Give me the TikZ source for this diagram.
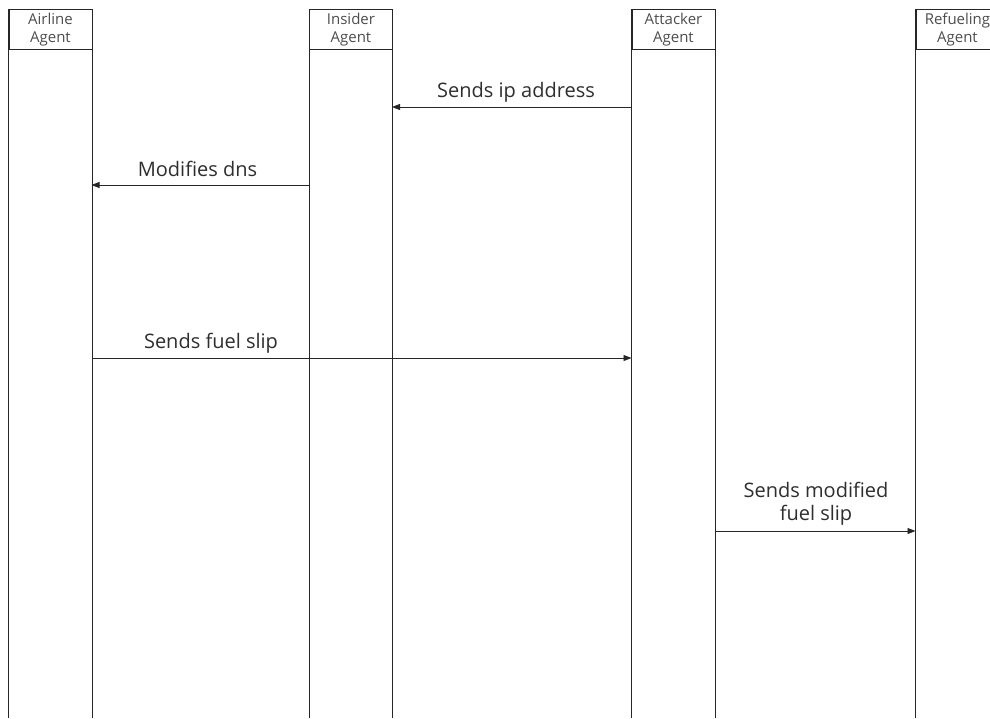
\documentclass[tikz,border=0pt]{standalone}
\usepackage{fontspec}
\setmainfont{Open Sans}
\usetikzlibrary{arrows.meta}
\definecolor{ink}{HTML}{262626}
\definecolor{txt}{HTML}{2E2E2E}
\definecolor{headtxt}{HTML}{4D4D4D}
\tikzset{
  lifeline/.style={draw=ink, line width=0.9pt},
  header/.style={draw=ink, line width=0.9pt, minimum width=83pt, minimum height=40pt,
    anchor=north west, align=center, inner sep=0pt,
    font=\fontsize{15}{18}\selectfont, text=headtxt},
  msg/.style={draw=ink, line width=0.9pt, -{Triangle[length=8pt,width=6pt]}},
  msglabel/.style={font=\fontsize{20}{23}\selectfont, text=txt, align=center, anchor=base, inner sep=0pt}
}
\begin{document}
\begin{tikzpicture}[x=1pt,y=-1pt]
\useasboundingbox (0,0) rectangle (990,718);
\clip (0,0) rectangle (990,718);
% agent headers (the lower edge of each box is the divider under the name)
\node[header] (air) at (8.5,9) {Airline\\Agent};
\node[header] (ins) at (309,9) {Insider\\Agent};
\node[header] (att) at (631.5,9) {Attacker\\Agent};
\node[header] (ref) at (915.5,9) {Refueling\\Agent};
% lane walls
\foreach \a in {air,ins,att,ref} {
  \draw[lifeline] (\a.north west) -- (\a.north west |- 0,718);
  \draw[lifeline] (\a.north east) -- (\a.north east |- 0,718);
}
% message anchors on the lanes
\coordinate (attL1) at (631.5,107);
\coordinate (insR1) at (392,107);
\coordinate (insL2) at (309,185);
\coordinate (airR2) at (91.5,185);
\coordinate (airR3) at (91.5,358);
\coordinate (attL3) at (631.5,358);
\coordinate (attR4) at (714.5,531);
\coordinate (refL4) at (915.5,531);
% messages
\draw[msg] (attL1) -- (insR1);
\node[msglabel] (m1) at (516,97) {Sends ip address};
\draw[msg] (insL2) -- (airR2);
\node[msglabel] (m2) at (197.5,176) {Modifies dns};
\draw[msg] (airR3) -- (attL3);
\node[msglabel] (m3) at (211,348) {Sends fuel slip};
\draw[msg] (attR4) -- (refL4);
% two-line label: its base anchor sits on the last line
\node[msglabel] (m4) at (816,520) {Sends modified\\fuel slip};
\end{tikzpicture}
\end{document}
